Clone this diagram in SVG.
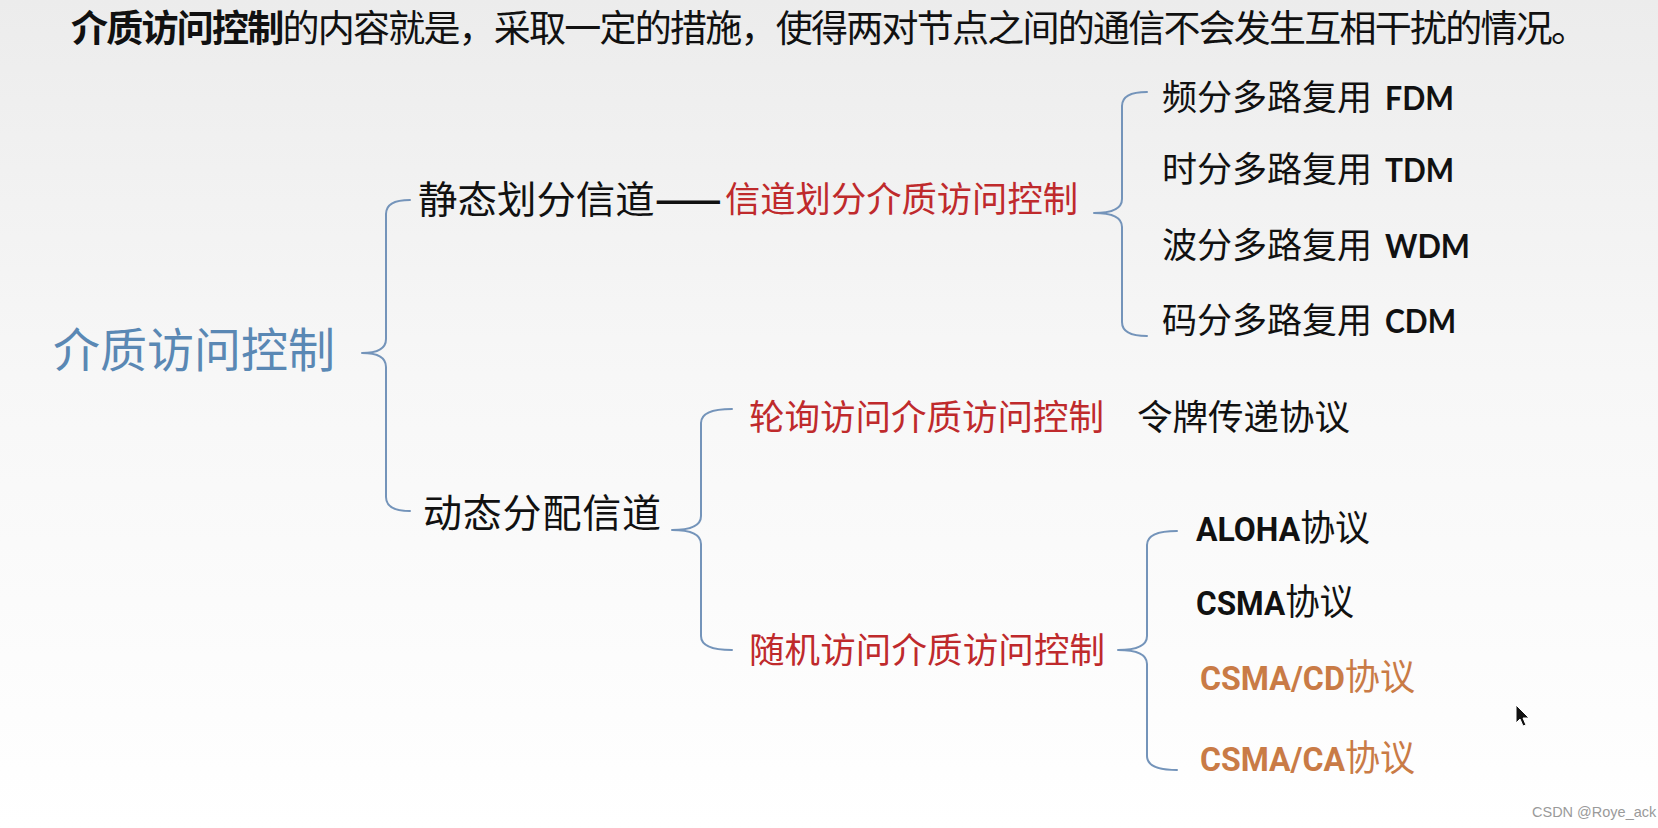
<svg xmlns="http://www.w3.org/2000/svg" width="1658" height="828" viewBox="0 0 1658 828">
<defs>
<linearGradient id="bg" x1="0" y1="0" x2="0" y2="1">
<stop offset="0" stop-color="#ECECEC"/>
<stop offset="0.45" stop-color="#F7F7F7"/>
<stop offset="1" stop-color="#FFFFFF"/>
</linearGradient>
<style>
.zh{font-family:"Noto Sans CJK SC","Noto Sans CJK JP",sans-serif;}
.k{fill:#111111;}
.red{fill:#BF2A2C;}
.org{fill:#C97B46;}
.blue{fill:#5A88B4;}
.lat{font-family:Lato,"Open Sans","Liberation Sans",sans-serif;font-weight:700;}
.rb{font-family:Roboto,Lato,"Liberation Sans",sans-serif;font-weight:700;}
.brace{fill:none;stroke:#7494BA;stroke-width:2;stroke-linejoin:round;stroke-linecap:round;}
</style>
</defs>
<rect x="0" y="0" width="1658" height="828" fill="url(#bg)"/>

<g id="caption">
<text class="zh k" x="71" y="42" font-size="37" textLength="1517" lengthAdjust="spacing"><tspan font-weight="700">介质访问控制</tspan>的内容就是，采取一定的措施，使得两对节点之间的通信不会发生互相干扰的情况。</text>
</g>

<g id="connectors">
<path class="brace" d="M410,200 Q386,200 386,214 L386,339 Q386,353 362,353 Q386,353 386,367 L386,497 Q386,511 410,511"/>
<path class="brace" d="M1147,92 Q1122,92 1122,106 L1122,199 Q1122,213 1094,213 Q1122,213 1122,227 L1122,322 Q1122,336 1147,336"/>
<path class="brace" d="M732,409 Q701,409 701,423 L701,516 Q701,530 672,530 Q701,530 701,544 L701,636 Q701,650 732,650"/>
<path class="brace" d="M1177,531 Q1147,531 1147,545 L1147,636 Q1147,650 1118,650 Q1147,650 1147,664 L1147,756 Q1147,770 1177,770"/>
</g>

<g id="n-root">
<text class="zh blue" x="53" y="367" font-size="47" textLength="282">介质访问控制</text>
</g>

<g id="n-static">
<text class="zh k" x="418" y="213" font-size="38" textLength="304" lengthAdjust="spacingAndGlyphs">静态划分信道<tspan font-weight="700">——</tspan></text>
<text class="zh red" x="725" y="212" font-size="35.3" textLength="353">信道划分介质访问控制</text>
</g>

<g id="n-fdm">
<text class="zh k" x="1162" y="110" font-size="35">频分多路复用</text>
<text class="lat k" x="1385" y="110" font-size="33" textLength="69" lengthAdjust="spacingAndGlyphs">FDM</text>
</g>
<g id="n-tdm">
<text class="zh k" x="1162" y="182" font-size="35">时分多路复用</text>
<text class="lat k" x="1385" y="182" font-size="33" textLength="69" lengthAdjust="spacingAndGlyphs">TDM</text>
</g>
<g id="n-wdm">
<text class="zh k" x="1162" y="258" font-size="35">波分多路复用</text>
<text class="lat k" x="1385" y="258" font-size="33" textLength="85" lengthAdjust="spacingAndGlyphs">WDM</text>
</g>
<g id="n-cdm">
<text class="zh k" x="1162" y="333" font-size="35">码分多路复用</text>
<text class="lat k" x="1385" y="333" font-size="33" textLength="71" lengthAdjust="spacingAndGlyphs">CDM</text>
</g>

<g id="n-dynamic">
<text class="zh k" x="423" y="527" font-size="39" textLength="238">动态分配信道</text>
</g>

<g id="n-polling">
<text class="zh red" x="749" y="430" font-size="35.5" textLength="355">轮询访问介质访问控制</text>
</g>
<g id="n-token">
<text class="zh k" x="1137" y="430" font-size="35.5" textLength="213">令牌传递协议</text>
</g>

<g id="n-random">
<text class="zh red" x="749" y="663" font-size="35.5" textLength="356">随机访问介质访问控制</text>
</g>

<g id="n-aloha">
<text class="k" x="1196" y="541" textLength="174" lengthAdjust="spacingAndGlyphs"><tspan class="rb" font-size="33">ALOHA</tspan><tspan class="zh" font-size="36">协议</tspan></text>
</g>
<g id="n-csma">
<text class="k" x="1196" y="615" textLength="158" lengthAdjust="spacingAndGlyphs"><tspan class="rb" font-size="33">CSMA</tspan><tspan class="zh" font-size="36">协议</tspan></text>
</g>
<g id="n-csmacd">
<text class="org" x="1200" y="690" textLength="215" lengthAdjust="spacingAndGlyphs"><tspan class="rb" font-size="33">CSMA/CD</tspan><tspan class="zh" font-size="36">协议</tspan></text>
</g>
<g id="n-csmaca">
<text class="org" x="1200" y="771" textLength="215" lengthAdjust="spacingAndGlyphs"><tspan class="rb" font-size="33">CSMA/CA</tspan><tspan class="zh" font-size="36">协议</tspan></text>
</g>

<path d="M1516,705 L1516,723 L1520,719 L1523,726 L1526,725 L1523,718 L1529,718 Z" fill="#111111" stroke="#FFFFFF" stroke-width="1"/>
<text x="1532" y="817" font-family="Liberation Sans,sans-serif" font-size="14.5" fill="#9A9A9A">CSDN @Roye_ack</text>
</svg>
